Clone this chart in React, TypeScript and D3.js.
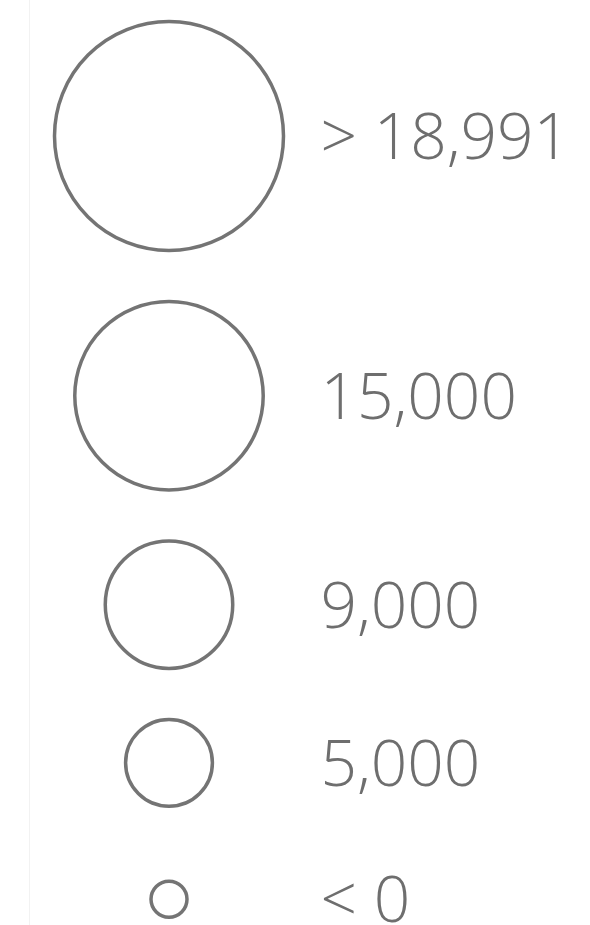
import { useEffect, useRef } from "react";
import * as d3 from "d3";

// legend values (largest first) and their labels
const legendValues = [18991, 15000, 9000, 5000, 0];
const legendLabels = ["> 18,991", "15,000", "9,000", "5,000", "< 0"];
const sizeDomain = [0, 18991];

export default function App() {
    const ref = useRef<SVGSVGElement | null>(null);

    useEffect(() => {
        const width = 590;
        const height = 925;
        const svg = d3.select(ref.current);
        svg.selectAll("*").remove();

        svg.attr("width", width).attr("height", height)
            .style("font-family", "'Open Sans', sans-serif");

        svg.append("rect").attr("width", width).attr("height", height).attr("fill", "#fff");

        // faint divider on the left
        svg.append("line")
            .attr("x1", 29.5).attr("x2", 29.5)
            .attr("y1", 0).attr("y2", height)
            .attr("stroke", "#f2f2f2")
            .attr("stroke-width", 1);

        // linear radius scale
        const r = d3.scaleLinear().domain(sizeDomain).range([18, 114.5]);

        const cx = 169;
        const maxR = r(sizeDomain[1]);
        const labelX = cx + maxR + 37;
        const gap = 51;
        const minHalf = 42;

        // stack rows vertically
        let y = 21.5;
        const rows = legendValues.map((v, i) => {
            const rad = r(v);
            const half = Math.max(rad, minHalf);
            const cy = y + half;
            y = cy + half + gap;
            return { value: v, label: legendLabels[i], rad, cy };
        });

        const g = svg.append("g");

        g.selectAll("circle")
            .data(rows)
            .enter()
            .append("circle")
            .attr("cx", cx)
            .attr("cy", d => d.cy)
            .attr("r", d => d.rad)
            .attr("fill", "none")
            .attr("stroke", "#747474")
            .attr("stroke-width", 3.5);

        g.selectAll("text")
            .data(rows)
            .enter()
            .append("text")
            .attr("x", labelX)
            .attr("y", d => d.cy + 23)
            .style("font-size", "64px")
            .style("font-weight", "300")
            .style("fill", "#6e6e6e")
            .text(d => d.label);
    }, []);

    return (
        <div style={{ position: "absolute", left: 0, top: 0, width: 590, height: 925 }}>
            <svg ref={ref} style={{ display: "block" }}></svg>
        </div>
    );
}
